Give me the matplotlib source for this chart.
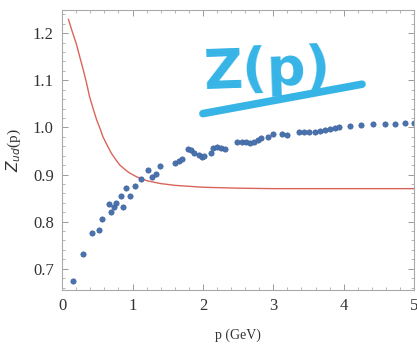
import matplotlib
matplotlib.use("Agg")
import matplotlib.pyplot as plt
from matplotlib.ticker import MultipleLocator

# lattice points
p_data = [0.15, 0.29, 0.43, 0.52, 0.57, 0.66, 0.70, 0.73, 0.76, 0.83, 0.86, 0.91,
          0.96, 1.04, 1.12, 1.22, 1.28, 1.34, 1.39, 1.60, 1.66, 1.71, 1.79, 1.83,
          1.88, 1.94, 1.99, 2.02, 2.11, 2.14, 2.20, 2.26, 2.32, 2.49, 2.55, 2.61,
          2.67, 2.73, 2.78, 2.82, 2.92, 2.99, 3.13, 3.20, 3.37, 3.44, 3.51, 3.59,
          3.66, 3.73, 3.80, 3.87, 3.94, 4.09, 4.25, 4.41, 4.58, 4.73, 4.87, 5.00]
z_data = [0.673, 0.731, 0.776, 0.783, 0.805, 0.837, 0.821, 0.831, 0.840, 0.855,
          0.832, 0.871, 0.855, 0.876, 0.890, 0.910, 0.894, 0.901, 0.917, 0.925,
          0.929, 0.932, 0.954, 0.952, 0.945, 0.941, 0.938, 0.939, 0.946, 0.956,
          0.958, 0.956, 0.954, 0.970, 0.968, 0.968, 0.966, 0.970, 0.973, 0.977,
          0.979, 0.987, 0.985, 0.984, 0.991, 0.990, 0.991, 0.991, 0.993, 0.995,
          0.996, 0.998, 1.000, 1.003, 1.005, 1.007, 1.007, 1.007, 1.009, 1.010]

# red model curve
p_curve = [0.09, 0.14, 0.20, 0.25, 0.30, 0.35, 0.39, 0.44, 0.49, 0.54, 0.58, 0.64,
           0.70, 0.76, 0.82, 0.89, 0.96, 1.06, 1.20, 1.39, 1.60, 1.80, 2.00, 2.50,
           3.00, 3.50, 4.00, 4.50, 5.00]
z_curve = [1.229, 1.205, 1.178, 1.150, 1.122, 1.092, 1.065, 1.040, 1.016, 0.997,
           0.980, 0.962, 0.945, 0.932, 0.920, 0.911, 0.903, 0.895, 0.887, 0.881,
           0.877, 0.875, 0.873, 0.871, 0.870, 0.870, 0.870, 0.870, 0.870]

plt.rcParams['font.family'] = ['Liberation Serif', 'DejaVu Serif']

fig = plt.figure(figsize=(4.17, 3.58), dpi=100)
ax = fig.add_axes([0.149, 0.19, 0.844, 0.782])

ax.plot(p_curve, z_curve, color="#d9645a", lw=1.0)
ax.plot(p_data, z_data, "o", color="#4a72ad", ms=3.8, mec="#3d63a0", mew=0.5)

ax.set_xlim(0, 5.0)
ax.set_ylim(0.655, 1.249)
ax.xaxis.set_minor_locator(MultipleLocator(0.2))
ax.yaxis.set_minor_locator(MultipleLocator(0.02))
ax.set_xticks([0, 1, 2, 3, 4, 5])
ax.set_xticklabels(["0", "1", "2", "3", "4", "5"])
ax.set_yticks([0.7, 0.8, 0.9, 1.0, 1.1, 1.2])
ax.set_yticklabels(["0.7", "0.8", "0.9", "1.0", "1.1", "1.2"])
ax.tick_params(which="both", direction="in", top=True, right=True, color="#999999",
               labelsize=12, labelcolor="#333333")
ax.tick_params(which="major", length=4, width=0.7, pad=6)
ax.tick_params(which="minor", length=2, width=0.5)
for s in ax.spines.values():
    s.set_color("#aaaaaa")
    s.set_linewidth(0.8)

ax.set_xlabel("p (GeV)", fontsize=10, color="#333333", labelpad=10)
ax.set_ylabel(r"$Z_{ud}$(p)", fontsize=11, color="#333333", labelpad=7)

# handwritten note
ax.text(0.40, 0.72, "Z(p)", transform=ax.transAxes, fontsize=39, fontweight="bold",
        color="#36b4e6", family="DejaVu Sans", ha="left", va="baseline", rotation=2)
ax.plot([0.40, 0.852], [0.63, 0.735], transform=ax.transAxes, color="#36b4e6",
        lw=5.5, solid_capstyle="round")

fig.savefig("out.png", dpi=100)
